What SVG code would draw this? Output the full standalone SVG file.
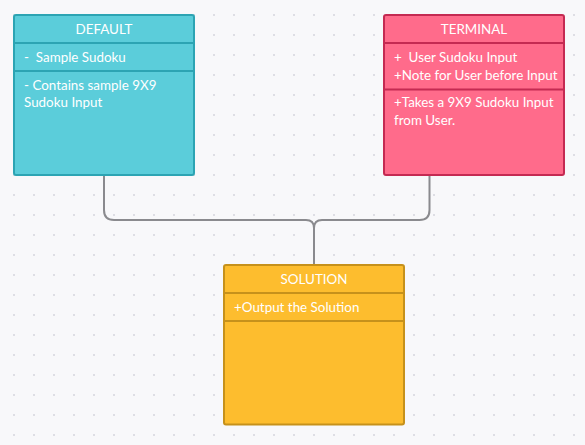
<svg xmlns="http://www.w3.org/2000/svg" width="585" height="445" viewBox="0 0 585 445">
  <defs>
    <pattern id="dots" x="13" y="14" width="20" height="20" patternUnits="userSpaceOnUse">
      <rect x="0" y="0" width="2" height="2" fill="#dedee4"/>
    </pattern>
    <style>
      .title { font-family: Lato, "Open Sans", "Liberation Sans", sans-serif; font-size: 13.4px; fill: #ffffff; text-anchor: middle; }
      .item { font-family: Lato, "Open Sans", "Liberation Sans", sans-serif; font-size: 13.4px; fill: #ffffff; }
      .conn { fill: none; stroke: #8a8a8e; stroke-width: 2; }
      .blue { fill: #5bcdda; stroke: #2ca4b3; stroke-width: 2; }
      .blue-line { stroke: #2ca4b3; stroke-width: 2; }
      .pink { fill: #ff6b8b; stroke: #c42a52; stroke-width: 2; }
      .pink-line { stroke: #c42a52; stroke-width: 2; }
      .gold { fill: #fdbd2e; stroke: #c6911b; stroke-width: 2; }
      .gold-line { stroke: #c6911b; stroke-width: 2; }
    </style>
  </defs>

  <!-- canvas with dot grid -->
  <rect x="0" y="0" width="585" height="445" fill="#f8f8fa"/>
  <rect x="0" y="0" width="585" height="445" fill="url(#dots)"/>

  <!-- connectors -->
  <g id="connectors">
    <path class="conn" d="M104 176 V210 Q104 220 114 220 H306 Q314 220 314 228 V265"/>
    <path class="conn" d="M429.5 176 V210 Q429.5 220 419.5 220 H322 Q314 220 314 228"/>
  </g>

  <!-- DEFAULT class -->
  <g id="default">
    <rect class="blue" x="14" y="15" width="180" height="160" rx="2"/>
    <line class="blue-line" x1="14" y1="43" x2="194" y2="43"/>
    <line class="blue-line" x1="14" y1="71" x2="194" y2="71"/>
    <text class="title" x="104" y="34">DEFAULT</text>
    <text class="item" x="24" y="62" xml:space="preserve">-  Sample Sudoku</text>
    <text class="item" x="24" y="90">- Contains sample 9X9</text>
    <text class="item" x="24" y="107">Sudoku Input</text>
  </g>

  <!-- TERMINAL class -->
  <g id="terminal">
    <rect class="pink" x="384" y="15" width="180" height="160" rx="2"/>
    <line class="pink-line" x1="384" y1="43" x2="564" y2="43"/>
    <line class="pink-line" x1="384" y1="89.5" x2="564" y2="89.5"/>
    <text class="title" x="474" y="34">TERMINAL</text>
    <text class="item" x="394" y="62" xml:space="preserve">+  User Sudoku Input</text>
    <text class="item" x="394" y="80">+Note for User before Input</text>
    <text class="item" x="394" y="107">+Takes a 9X9 Sudoku Input</text>
    <text class="item" x="394" y="125">from User.</text>
  </g>

  <!-- SOLUTION class -->
  <g id="solution">
    <rect class="gold" x="224" y="265" width="180" height="159.5" rx="2"/>
    <line class="gold-line" x1="224" y1="293" x2="404" y2="293"/>
    <line class="gold-line" x1="224" y1="321" x2="404" y2="321"/>
    <text class="title" x="314" y="284">SOLUTION</text>
    <text class="item" x="234" y="312">+Output the Solution</text>
  </g>
</svg>
